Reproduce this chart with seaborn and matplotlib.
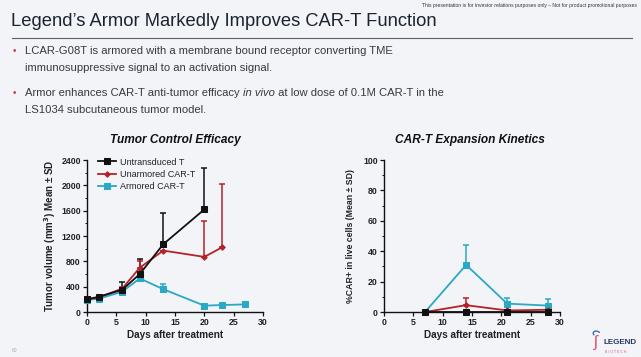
import matplotlib
matplotlib.use("Agg")
import matplotlib.pyplot as plt
import seaborn as sns
import numpy as np
import pandas as pd
from matplotlib.ticker import MultipleLocator
from matplotlib.patches import Arc

# ---------------- data ----------------
tc_untr_days = [0, 2, 6, 9, 13, 20]
tc_untr_vals = [200, 240, 350, 600, 1070, 1620]
tc_untr_sd_top = [200, 250, 470, 840, 1570, 2270]

tc_unarm_days = [0, 2, 6, 9, 13, 20, 23]
tc_unarm_vals = [200, 230, 370, 700, 970, 870, 1020]
tc_unarm_sd_top = [200, 230, 400, 800, 970, 1440, 2020]

tc_arm_days = [0, 2, 6, 9, 13, 20, 23, 27]
tc_arm_vals = [190, 210, 320, 530, 360, 100, 110, 120]
tc_arm_sd_top = [190, 210, 320, 530, 440, 100, 110, 120]

ek_days = [7, 14, 21, 28]
ek_untr_vals = [0, 0, 0, 0]
ek_unarm_vals = [0, 4.5, 1.0, 1.5]
ek_unarm_sd_top = [0, 9.0, 1.0, 3.0]
ek_arm_vals = [0, 31, 5.5, 4.2]
ek_arm_sd_top = [0, 44, 9.5, 8.5]

series_names = ["Untransduced T", "Unarmored CAR-T", "Armored CAR-T"]
series_colors = ["#111111", "#b5222a", "#2aa9c4"]
series_markers = ["s", "D", "s"]
series_msize = [5.0, 2.8, 4.6]

FONT = "Liberation Sans"
plt.rcParams["font.family"] = [FONT, "DejaVu Sans"]

BG = "#f3f4f8"
fig = plt.figure(figsize=(6.41, 3.57), dpi=100, facecolor=BG)

def px(x, y):
    return x / 641.0, 1 - y / 357.0

# ---------------- slide text ----------------
fig.text(*px(637, 6), "This presentation is for investor relations purposes only \u2013 Not for product promotional purposes",
         ha="right", va="center", fontsize=3.6, color="#333333")
fig.text(*px(11, 21), "Legend\u2019s Armor Markedly Improves CAR-T Function",
         ha="left", va="center", fontsize=13.2, color="#1c2330")
fig.add_artist(plt.Line2D([12 / 641, 632 / 641], [1 - 37.5 / 357] * 2, color="#5a5f6a", lw=0.8))

bul_fs = 8.1
tcol = "#3a3a3a"
for y in (51, 93):
    fig.text(*px(13, y), "\u2022", ha="left", va="center", fontsize=7, color="#d03a4a")
fig.text(*px(25, 51), "LCAR-G08T is armored with a membrane bound receptor converting TME",
         ha="left", va="center", fontsize=bul_fs, color=tcol)
fig.text(*px(25, 68), "immunosuppressive signal to an activation signal.",
         ha="left", va="center", fontsize=bul_fs, color=tcol)
t1 = fig.text(*px(25, 93), "Armor enhances CAR-T anti-tumor efficacy ",
              ha="left", va="center", fontsize=bul_fs, color=tcol)
fig.text(*px(25, 110), "LS1034 subcutaneous tumor model.",
         ha="left", va="center", fontsize=bul_fs, color=tcol)
fig.canvas.draw()
r = fig.canvas.get_renderer()
bb = t1.get_window_extent(r)
t2 = fig.text(bb.x1 / fig.bbox.width, 1 - 93 / 357, "in vivo", ha="left", va="center",
              fontsize=bul_fs, color=tcol, style="italic")
bb2 = t2.get_window_extent(r)
fig.text(bb2.x1 / fig.bbox.width, 1 - 93 / 357, " at low dose of 0.1M CAR-T in the",
         ha="left", va="center", fontsize=bul_fs, color=tcol)

fig.text(*px(12, 350), "60", ha="left", va="center", fontsize=3.5, color="#aaaaaa")

# logo
fig.text(*px(603, 342), "LEGEND", ha="left", va="center", fontsize=5.8, fontweight="bold", color="#2a3560")
fig.text(*px(605, 352), "B I O T E C H", ha="left", va="center", fontsize=2.6, color="#e05a78")
fig.text(*px(596, 342), "\u0283", ha="center", va="center", fontsize=12, color="#e0506e")
fig.add_artist(Arc(px(597, 334), 7 / 641, 6 / 357, angle=20, theta1=20, theta2=200,
                   transform=fig.transFigure, color="#3a6fb8", lw=1.0))

# ---------------- axes ----------------
h = (312 - 160) / 357.0
axL = fig.add_axes([87 / 641, 1 - 312 / 357, (263 - 87) / 641, h])
axR = fig.add_axes([384 / 641, 1 - 312 / 357, (560 - 384) / 641, h])

def style_ax(ax):
    ax.set_facecolor("none")
    for s in ("top", "right"):
        ax.spines[s].set_visible(False)
    for s in ("left", "bottom"):
        ax.spines[s].set_color("#111111")
        ax.spines[s].set_linewidth(1.0)
    ax.tick_params(axis="both", which="major", length=3, width=0.9, labelsize=6.3,
                   color="#111111", pad=1.5)
    ax.tick_params(axis="both", which="minor", length=1.8, width=0.7, color="#111111")
    for lab in ax.get_xticklabels() + ax.get_yticklabels():
        lab.set_fontweight("bold")
        lab.set_color("#222222")

def draw_series(ax, days, vals, tops, i, label=True):
    df = pd.DataFrame({"day": days, "val": vals})
    sns.lineplot(data=df, x="day", y="val", ax=ax, color=series_colors[i], lw=1.3,
                 marker=series_markers[i], markersize=series_msize[i],
                 markeredgecolor=series_colors[i], label=series_names[i] if label else None,
                 clip_on=False, zorder=3 + (2 - i))
    if tops is not None:
        up = np.array(tops) - np.array(vals)
        ax.errorbar(days, vals, yerr=[np.zeros_like(up), up], fmt="none",
                    ecolor=series_colors[i], elinewidth=1.1, capsize=2.2, capthick=1.1,
                    clip_on=False, zorder=2)

# Left chart
draw_series(axL, tc_untr_days, tc_untr_vals, tc_untr_sd_top, 0)
draw_series(axL, tc_unarm_days, tc_unarm_vals, tc_unarm_sd_top, 1)
draw_series(axL, tc_arm_days, tc_arm_vals, tc_arm_sd_top, 2)
axL.set_xlim(0, 30)
axL.set_ylim(0, 2400)
axL.set_xticks([0, 5, 10, 15, 20, 25, 30])
axL.set_yticks([0, 400, 800, 1200, 1600, 2000, 2400])
axL.yaxis.set_minor_locator(MultipleLocator(200))
axL.set_xlabel("Days after treatment", fontsize=7.2, fontweight="bold", labelpad=2, color="#222222")
axL.set_ylabel("Tumor volume (mm$^\\mathbf{3}$) Mean \u00b1 SD", fontsize=7.0, fontweight="bold",
               labelpad=2, color="#222222")
axL.set_title("Tumor Control Efficacy", fontsize=8.6, fontweight="bold", style="italic",
              color="#111111", pad=12)
leg = axL.legend(loc="upper left", bbox_to_anchor=(0.04, 1.04), frameon=False, fontsize=6.5,
                 handlelength=2.0, handletextpad=0.5, labelspacing=0.35, borderaxespad=0)
for t in leg.get_texts():
    t.set_color("#222222")
style_ax(axL)

# Right chart
draw_series(axR, ek_days, ek_untr_vals, None, 0, label=False)
draw_series(axR, ek_days, ek_unarm_vals, ek_unarm_sd_top, 1, label=False)
draw_series(axR, ek_days, ek_arm_vals, ek_arm_sd_top, 2, label=False)
axR.set_xlim(0, 30)
axR.set_ylim(0, 100)
axR.set_xticks([0, 5, 10, 15, 20, 25, 30])
axR.set_yticks([0, 20, 40, 60, 80, 100])
axR.yaxis.set_minor_locator(MultipleLocator(10))
axR.set_xlabel("Days after treatment", fontsize=7.2, fontweight="bold", labelpad=2, color="#222222")
axR.set_ylabel("%CAR+ in live cells (Mean \u00b1 SD)", fontsize=6.3, fontweight="bold",
               labelpad=6, color="#222222")
axR.set_title("CAR-T Expansion Kinetics", fontsize=8.6, fontweight="bold", style="italic",
              color="#111111", pad=12, x=0.49)
style_ax(axR)

fig.savefig("out.png", dpi=100, facecolor=BG)
